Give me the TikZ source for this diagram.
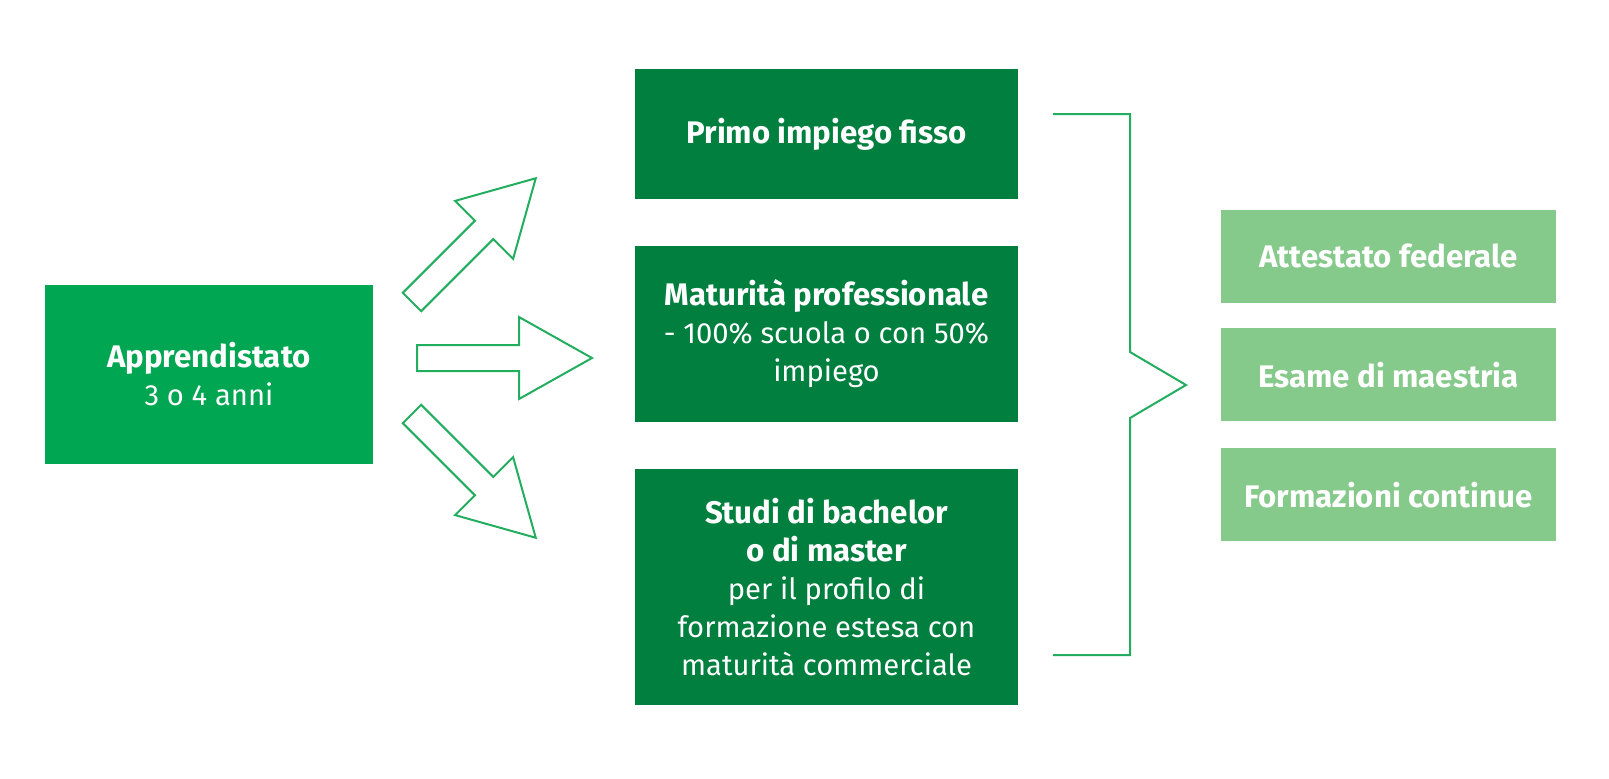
\documentclass[tikz,border=0pt]{standalone}
\usepackage{fontspec}
\setmainfont{Fira Sans}
\usetikzlibrary{positioning}

\definecolor{apprgreen}{RGB}{0,166,81}
\definecolor{darkgreen}{RGB}{0,127,62}
\definecolor{lightgreen}{RGB}{133,201,139}
\definecolor{linegreen}{RGB}{35,174,95}

\newcommand\hd[1]{{\fontsize{15.6}{19}\selectfont\bfseries #1}}

\tikzset{
  box/.style={text=white, align=center, inner sep=0pt, font=\fontsize{14.6}{19}\selectfont},
  apprbox/.style={box, fill=apprgreen, minimum width=164pt, minimum height=89.5pt},
  midbox/.style={box, fill=darkgreen, minimum width=191.5pt},
  resbox/.style={box, fill=lightgreen, minimum width=167.5pt, minimum height=46.5pt},
  outline/.style={draw=linegreen, line width=1pt, line join=miter},
}

\begin{document}
\begin{tikzpicture}[x=0.5pt,y=-0.5pt]
  \useasboundingbox (0,0) rectangle (1609,778);

  % start
  \node (appr) at (209,374.5) [apprbox] {\hd{Apprendistato}\\3 o 4 anni};

  % the three ways
  \node (primo) at (826.5,134) [midbox, minimum height=65pt] {\hd{Primo impiego fisso}};
  \node (matu) [midbox, minimum height=88pt, below=23pt of primo]
    {\hd{Maturità professionale}\\- 100\% scuola o con 50\%\\impiego};
  \node (studi) [midbox, minimum height=118pt, below=23pt of matu]
    {\hd{Studi di bachelor}\\\hd{o di master}\\per il profilo di\\formazione estesa con\\maturità commerciale};

  % block arrows
  \foreach \tx/\ty/\ang in {412/302/45, 417/358/0, 412/414/-45}
    \draw[outline, shift={(\tx,\ty)}, rotate=\ang]
      (0,-13) -- (102,-13) -- (102,-41) -- (175,0) -- (102,41) -- (102,13) -- (0,13) -- cycle;

  % brace
  \coordinate (brTop) at (1053,114);
  \coordinate (brBot) at (1053,655);
  \coordinate (brTip) at (1186,385);
  \draw[outline] (brTop) -| (1130,352) -- (brTip) -- (1130,418) |- (brBot);

  % further education
  \node (att) at (1388.5,256) [resbox] {\hd{Attestato federale}};
  \node (esame) [resbox, below=12.5pt of att] {\hd{Esame di maestria}};
  \node (form) [resbox, below=13pt of esame] {\hd{Formazioni continue}};
\end{tikzpicture}
\end{document}
